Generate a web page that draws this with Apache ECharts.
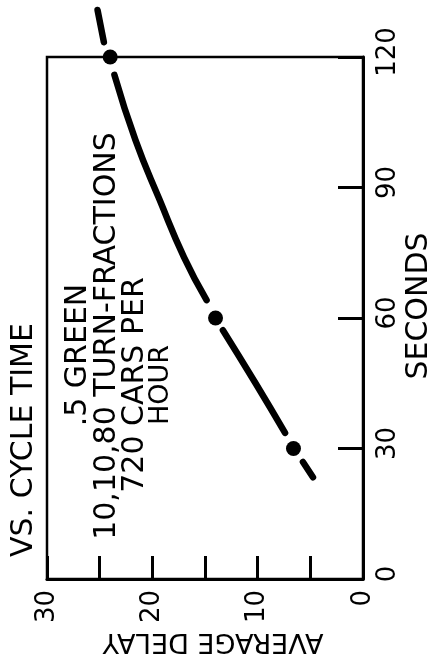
<!DOCTYPE html>
<html><head><meta charset="utf-8">
<script src="https://cdn.jsdelivr.net/npm/echarts@6/dist/echarts.min.js"></script>
<style>html,body{margin:0;padding:0;background:#fff}#c{width:430px;height:664px}</style>
</head><body><div id="c"></div>
<script>
// Curve (null = hand-drawn gap around plotted dots)
const curveSeconds = [130.8, 123.4, null, 115.9, 100.9, 87.1, 74.0, 64.1, null, 57.2, 45.0, 33.6, null, 26.9, 23.4];
const curveDelay   = [25.2,  24.6,  null, 23.6,  21.6,  19.3, 17.0, 14.85, null, 13.3, 10.2,  7.4, null, 5.7,  4.75];
// Plotted points
const pointSeconds = [30, 60, 120];
const pointDelay   = [6.6, 14.0, 24.0];
// Axes
const secondsTicks = [0, 30, 60, 90, 120];
const delayTicks = [0, 10, 20, 30];
const titleText = 'VS. CYCLE TIME';
const noteLines = ['.5 GREEN', '10,10,80 TURN-FRACTIONS', '720 CARS PER', 'HOUR'];
const secondsName = 'SECONDS';
const delayName = 'AVERAGE DELAY';

const FONT = 'DejaVu Sans';
const lineData = curveSeconds.map((s, i) => s == null ? [null, null] : [curveDelay[i], s]);
const pointData = pointSeconds.map((s, i) => [pointDelay[i], s]);

function rtext(text, x, y, size, rot) {
  return { type: 'text', x: x, y: y, rotation: rot, z: 10,
    style: { text: text, fontSize: size, fontFamily: FONT, fill: '#000', align: 'center', verticalAlign: 'middle' } };
}
const R = Math.PI / 2;

const chart = echarts.init(document.getElementById('c'), null, { renderer: 'canvas' });
chart.setOption({
  animation: false,
  backgroundColor: '#fff',
  grid: { left: 47, top: 57, width: 316, height: 522, show: true, borderColor: '#000', borderWidth: 2.5 },
  xAxis: {
    type: 'value', min: delayTicks[0], max: delayTicks[delayTicks.length - 1], interval: 10, inverse: true,
    position: 'bottom',
    axisLine: { show: true, onZero: false, lineStyle: { color: '#000', width: 3 } },
    axisTick: { show: true, inside: true, length: 23, lineStyle: { color: '#000', width: 3 } },
    minorTick: { show: true, splitNumber: 2, length: 23, lineStyle: { color: '#000', width: 3 } },
    axisLabel: { rotate: 90, margin: 11, fontSize: 26, color: '#000', fontFamily: FONT },
    splitLine: { show: false }, minorSplitLine: { show: false }
  },
  yAxis: {
    type: 'value', min: secondsTicks[0], max: secondsTicks[secondsTicks.length - 1], interval: 30,
    position: 'right',
    axisLine: { show: true, onZero: false, lineStyle: { color: '#000', width: 3 } },
    axisTick: { show: true, inside: true, length: 25, lineStyle: { color: '#000', width: 3 } },
    axisLabel: { rotate: 90, margin: 12, fontSize: 26, color: '#000', fontFamily: FONT, padding: [0, 0, 0, 10] },
    splitLine: { show: false }
  },
  series: [
    { type: 'line', data: lineData, smooth: 0.5, symbol: 'none', clip: false, connectNulls: false,
      lineStyle: { color: '#000', width: 6.5, cap: 'round' }, z: 3 },
    { type: 'scatter', data: pointData, symbolSize: 15, clip: false, itemStyle: { color: '#000', opacity: 1 }, z: 4 }
  ],
  graphic: [
    rtext(titleText, 24, 440, 30, R),
    rtext(noteLines[0], 78, 355, 30, R),
    rtext(noteLines[1], 107, 336, 30, R),
    rtext(noteLines[2], 135, 385, 30, R),
    rtext(noteLines[3], 161, 385, 27, R),
    rtext(secondsName, 419, 306, 30, R),
    rtext(delayName, 213, 641, 27, Math.PI)
  ]
});
</script></body></html>
